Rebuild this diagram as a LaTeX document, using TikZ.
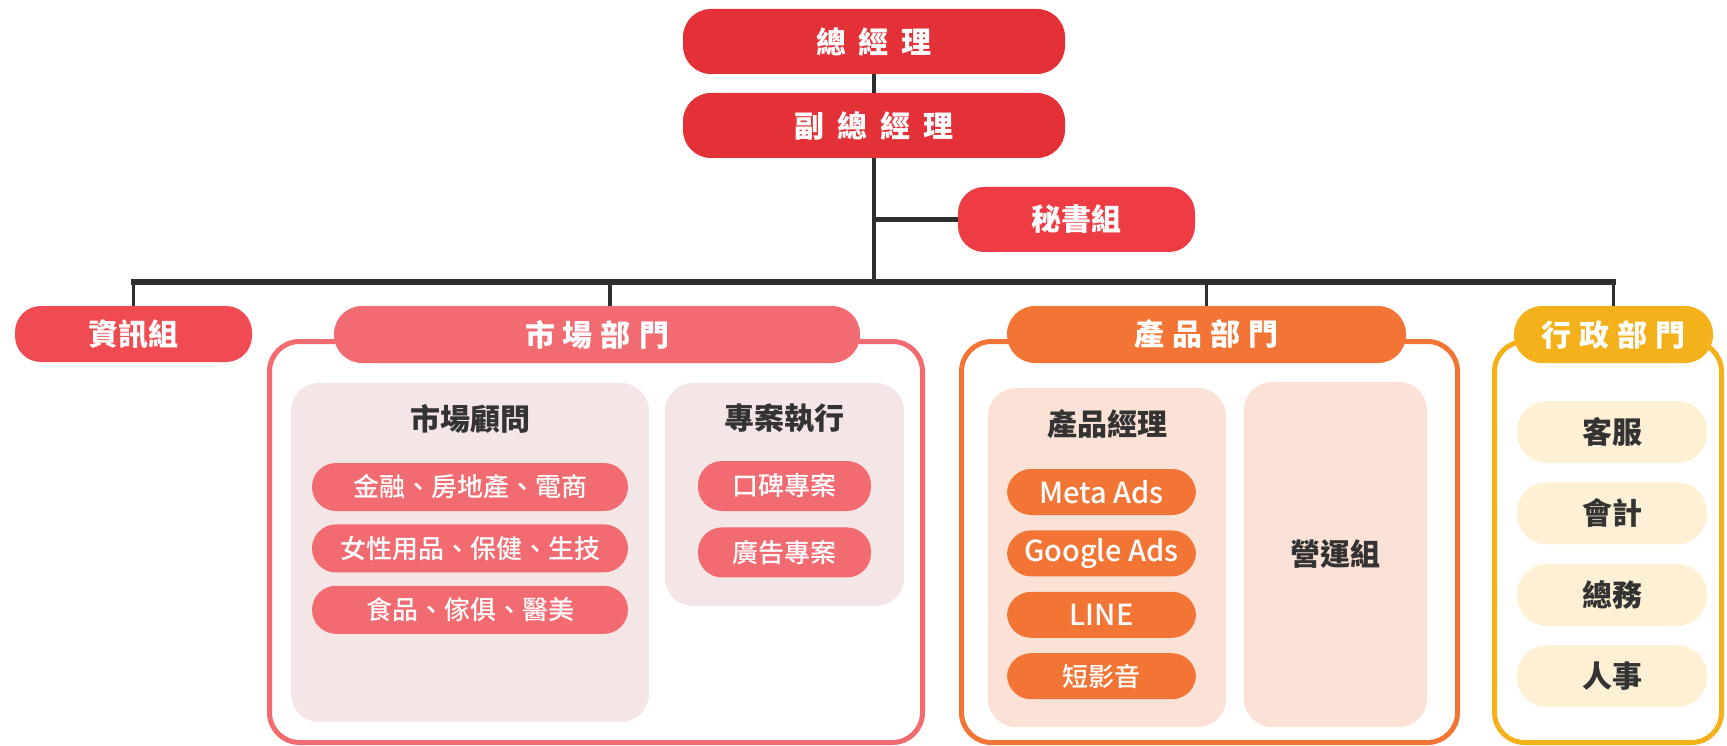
\documentclass[tikz,border=0pt]{standalone}
\usepackage{fontspec}
\usepackage{tikz}
\usetikzlibrary{positioning}
\newfontfamily\cjk{Noto Sans CJK TC}
\newfontfamily\cjkmid{Noto Sans CJK TC Medium}
\definecolor{chiefred}{HTML}{E33137}
\definecolor{secred}{HTML}{EF3B43}
\definecolor{itred}{HTML}{F04B53}
\definecolor{mktred}{HTML}{F26B70}
\definecolor{mktpale}{HTML}{F4E5E6}
\definecolor{prdorange}{HTML}{F37535}
\definecolor{prdpale}{HTML}{FCE2D6}
\definecolor{admyellow}{HTML}{F4B11C}
\definecolor{admpale}{HTML}{FDF0D5}
\definecolor{linegray}{HTML}{2F2F2F}
\definecolor{inktext}{HTML}{333333}
\newcommand{\wgap}{\hspace{13pt}}
\newcommand{\ngap}{\hspace{8pt}}
\newcommand{\latinsize}{\fontsize{29}{31}\selectfont}
\tikzset{
    %Define style for top boxes
    chief/.style={
           rectangle,
           rounded corners=28pt,
           fill=chiefred,
           text=white,
           minimum width=382pt,
           minimum height=65pt,
           font=\cjk\bfseries\fontsize{30}{32}\selectfont},
    unit/.style={
           rectangle,
           rounded corners=26pt,
           text=white,
           minimum width=237pt,
           minimum height=56pt,
           font=\cjk\bfseries\fontsize{30}{32}\selectfont},
    %Define style for department headers
    head/.style={
           rectangle,
           rounded corners=28pt,
           text=white,
           minimum height=57pt,
           font=\cjk\bfseries\fontsize{30}{32}\selectfont},
    deptframe/.style={
           rectangle,
           rounded corners=30pt,
           draw=#1,
           line width=5pt,
           minimum height=401pt},
    panel/.style={
           rectangle,
           rounded corners=28pt,
           text=inktext,
           font=\cjk\bfseries\fontsize{30}{32}\selectfont},
    paneltitle/.style={
           text=inktext,
           font=\cjk\bfseries\fontsize{30}{32}\selectfont},
    %Define style for pills
    pill/.style={
           rectangle,
           rounded corners=24pt,
           fill=#1,
           text=white,
           minimum height=48pt,
           font=\cjkmid\fontsize{26}{28}\selectfont},
    softpill/.style={
           rectangle,
           rounded corners=30pt,
           fill=admpale,
           text=inktext,
           minimum width=190pt,
           minimum height=62pt,
           font=\cjk\bfseries\fontsize{30}{32}\selectfont},
    % Define line style
    link/.style={
           draw=linegray,
           line width=3.5pt},
    barlink/.style={
           draw=linegray,
           line width=5.5pt}
}
\begin{document}
\begin{tikzpicture}[x=1pt,y=-1pt]
\useasboundingbox (0,0) rectangle (1727,746);

 %frames
\node[deptframe=mktred, minimum width=653pt] (mktbox) at (596,542) {};
\node[deptframe=prdorange, minimum width=496pt] (prdbox) at (1209.5,542) {};
\node[deptframe=admyellow, minimum width=227pt] (admbox) at (1608,542) {};

 %top nodes
\node[chief] (gm) at (874,41.5) {總\wgap 經\wgap 理};
\node[chief] (vp) at (874,125.5) {副\wgap 總\wgap 經\wgap 理};
\node[unit, fill=secred, minimum height=65pt] (sec) at (1076.5,219.5) {秘書組};
\node[unit, fill=itred] (it) at (133.5,334) {資訊組};

 %department headers
\node[head, fill=mktred, minimum width=526pt] (mkt) at (597,334.5) {市\ngap 場\ngap 部\ngap 門};
\node[head, fill=prdorange, minimum width=399pt] (prd) at (1206.5,334.5) {產\ngap 品\ngap 部\ngap 門};
\node[head, fill=admyellow, minimum width=199pt] (adm) at (1613.5,334.5) {行\ngap 政\ngap 部\ngap 門};

 %panels
\node[panel, fill=mktpale, minimum width=358pt, minimum height=339pt] (advpanel) at (470,552.5) {};
\node[panel, fill=mktpale, minimum width=239pt, minimum height=223pt] (projpanel) at (784.5,494.5) {};
\node[panel, fill=prdpale, minimum width=238pt, minimum height=339pt] (pmpanel) at (1107,557.5) {};
\node[panel, fill=prdpale, minimum width=183pt, minimum height=345pt] (oppanel) at (1335.5,554.5) {營運組};

\node[paneltitle] (advtitle) at ([yshift=-36pt]advpanel.north) {市場顧問};
\node[paneltitle] (projtitle) at ([yshift=-36pt]projpanel.north) {專案執行};
\node[paneltitle] (pmtitle) at ([yshift=-36pt]pmpanel.north) {產品經理};

 %market pills
\node[pill=mktred, minimum width=316pt] (adv1) at (470,487) {金融、房地產、電商};
\node[pill=mktred, minimum width=316pt, below=13pt of adv1] (adv2) {女性用品、保健、生技};
\node[pill=mktred, minimum width=316pt, below=13pt of adv2] (adv3) {食品、傢俱、醫美};
\node[pill=mktred, minimum width=173pt, minimum height=50pt] (proj1) at (784.5,486) {口碑專案};
\node[pill=mktred, minimum width=173pt, minimum height=50pt, below=16pt of proj1] (proj2) {廣告專案};

 %product pills
\node[pill=prdorange, minimum width=189pt, minimum height=46pt] (pm1) at (1101.5,492) {\latinsize Meta Ads};
\node[pill=prdorange, minimum width=189pt, minimum height=46pt, below=15pt of pm1] (pm2) {\latinsize Google Ads};
\node[pill=prdorange, minimum width=189pt, minimum height=46pt, below=15pt of pm2] (pm3) {\latinsize LINE};
\node[pill=prdorange, minimum width=189pt, minimum height=46pt, below=15pt of pm3] (pm4) {短影音};

 %admin pills
\node[softpill] (adm1) at (1612,432) {客服};
\node[softpill, below=19pt of adm1] (adm2) {會計};
\node[softpill, below=19pt of adm2] (adm3) {總務};
\node[softpill, below=19pt of adm3] (adm4) {人事};

 %lines
\coordinate (fork) at (874,282);
\coordinate (mktdrop) at ([xshift=13pt]mkt.north);
\draw[link] (gm) -- (vp);
\draw[link] (vp) -- (fork);
\draw[barlink] (sec.west) -- (sec.west -| vp.south);
\draw[barlink, line cap=rect] (it.north |- fork) -- (adm.north |- fork);
\draw[link] (it.north |- fork) -- (it.north);
\draw[link] (mktdrop |- fork) -- (mktdrop);
\draw[link] (prd.north |- fork) -- (prd.north);
\draw[link] (adm.north |- fork) -- (adm.north);
\end{tikzpicture}
\end{document}
